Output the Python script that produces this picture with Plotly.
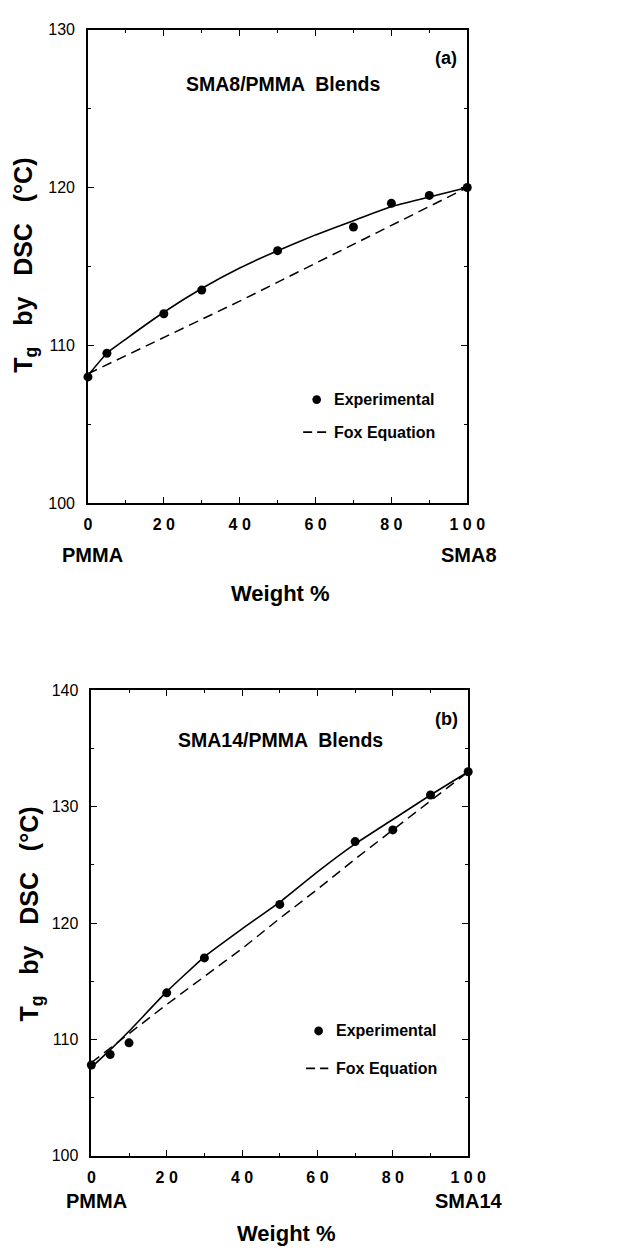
import plotly.graph_objects as go

# ---- data: SMA8/PMMA blends (panel a) ----
a_exp_w = [0, 5, 20, 30, 50, 70, 80, 90, 100]
a_exp_tg = [108.0, 109.5, 112.0, 113.5, 116.0, 117.5, 119.0, 119.5, 120.0]
a_fit_w = [0, 5, 10, 20, 30, 40, 50, 60, 70, 80, 90, 100]
a_fit_tg = [108.1, 109.5, 110.4, 112.1, 113.6, 114.9, 116.0, 117.0, 117.9, 118.8, 119.4, 120.0]
a_fox_w = [0, 20, 40, 60, 80, 100]
a_fox_tg = [108.2, 110.5, 112.8, 115.2, 117.6, 120.0]

# ---- data: SMA14/PMMA blends (panel b) ----
b_exp_w = [0, 5, 10, 20, 30, 50, 70, 80, 90, 100]
b_exp_tg = [107.8, 108.7, 109.7, 114.0, 117.0, 121.6, 127.0, 128.0, 131.0, 133.0]
b_fit_w = [0, 5, 10, 20, 30, 40, 50, 60, 70, 80, 90, 100]
b_fit_tg = [107.6, 109.1, 110.7, 114.1, 117.1, 119.5, 121.8, 124.4, 126.8, 128.9, 131.0, 133.0]
b_fox_w = [0, 10, 20, 30, 40, 50, 60, 70, 80, 90, 100]
b_fox_tg = [108.0, 110.5, 113.0, 115.4, 117.8, 120.4, 122.9, 125.5, 128.0, 130.5, 133.0]

x_tickvals = [0, 20, 40, 60, 80, 100]
x_ticktext = ["0", "2 0", "4 0", "6 0", "8 0", "1 0 0"]
a_y_ticks = [100, 110, 120, 130]
b_y_ticks = [100, 110, 120, 130, 140]

FONT = "Liberation Sans, Arial, sans-serif"
INK = "black"
DASH = "10px,6px"

fig = go.Figure()


def add_panel(xa, ya, exp_w, exp_tg, fit_w, fit_tg, fox_w, fox_tg):
    fig.add_trace(go.Scatter(x=fit_w, y=fit_tg, mode="lines", xaxis=xa, yaxis=ya,
                             line=dict(color=INK, width=1.6, shape="spline", smoothing=0.4),
                             showlegend=False))
    fig.add_trace(go.Scatter(x=fox_w, y=fox_tg, mode="lines", xaxis=xa, yaxis=ya,
                             line=dict(color=INK, width=1.5, dash=DASH), showlegend=False))
    fig.add_trace(go.Scatter(x=exp_w, y=exp_tg, mode="markers", xaxis=xa, yaxis=ya,
                             marker=dict(color=INK, size=9), cliponaxis=False, showlegend=False))


add_panel("x", "y", a_exp_w, a_exp_tg, a_fit_w, a_fit_tg, a_fox_w, a_fox_tg)
add_panel("x2", "y2", b_exp_w, b_exp_tg, b_fit_w, b_fit_tg, b_fox_w, b_fox_tg)

W, H = 630, 1254


def px(x):
    return x / W


def py(y):
    return 1 - y / H


def xaxis_style(domain, anchor):
    return dict(domain=domain, anchor=anchor, range=[0, 100], showgrid=False, zeroline=False,
                showline=True, linecolor=INK, linewidth=1.6, mirror="allticks",
                ticks="inside", ticklen=6, tickwidth=1.3, tickcolor=INK,
                tickvals=x_tickvals, ticktext=x_ticktext, ticklabelstandoff=6,
                tickfont=dict(family=FONT, size=16, color=INK, weight="bold"),
                minor=dict(ticks="inside", ticklen=3, tickwidth=1.2, tickcolor=INK, dtick=10))


def yaxis_style(domain, anchor, rng, ticks):
    return dict(domain=domain, anchor=anchor, range=rng, showgrid=False, zeroline=False,
                showline=True, linecolor=INK, linewidth=1.6, mirror="allticks",
                ticks="inside", ticklen=6, tickwidth=1.3, tickcolor=INK,
                tickvals=ticks, ticklabelstandoff=8,
                tickfont=dict(family=FONT, size=16, color=INK),
                minor=dict(ticks="inside", ticklen=3, tickwidth=1.2, tickcolor=INK, dtick=5))


fig.update_layout(
    width=W, height=H, margin=dict(l=0, r=0, t=0, b=0),
    paper_bgcolor="white", plot_bgcolor="white", showlegend=False,
    xaxis=xaxis_style([px(87), px(480)], "y"),
    yaxis=yaxis_style([py(502), py(22)], "x", [100, 130], a_y_ticks),
    xaxis2=xaxis_style([px(90.5), px(481)], "y2"),
    yaxis2=yaxis_style([py(1163.5), py(691.7)], "x2", [100, 140], b_y_ticks),
)


def label(text, x, y, size, angle=0):
    fig.add_annotation(text=text, x=px(x), y=py(y), xref="paper", yref="paper",
                       xanchor="center", yanchor="middle", showarrow=False, textangle=angle,
                       font=dict(family=FONT, size=size, color=INK, weight="bold"))


def legend_block(mx, my, dash_x0, dash_x1, fy, tx):
    # filled-circle key and dashed-line key drawn in paper space
    fig.add_shape(type="circle", xref="paper", yref="paper",
                  x0=px(mx - 4.5), x1=px(mx + 4.5), y0=py(my + 4.5), y1=py(my - 4.5),
                  fillcolor=INK, line=dict(color=INK, width=0))
    fig.add_shape(type="line", xref="paper", yref="paper",
                  x0=px(dash_x0), x1=px(dash_x1), y0=py(fy), y1=py(fy),
                  line=dict(color=INK, width=1.8, dash="9px,5px"))
    label("Experimental", tx, my, 16)
    label("Fox Equation", tx, fy, 16)


Y_TITLE = "T<sub>g</sub>   by   DSC   (°C)"

# panel (a) texts
label("SMA8/PMMA  Blends", 289, 77, 19.5)
label("(a)", 458, 51, 18)
legend_block(324, 397, 310, 334, 430, 394)
label("PMMA", 92, 555, 20)
label("SMA8", 482, 555, 20)
label("Weight %", 287, 594, 22)
label(Y_TITLE, 22, 261, 25, angle=-90)

# panel (b) texts
label("SMA14/PMMA  Blends", 286, 742, 19.5)
label("(b)", 458, 721, 18)
legend_block(326, 1037, 313, 336, 1075, 396)
label("PMMA", 96, 1209, 20)
label("SMA14", 482, 1209, 20)
label("Weight %", 293, 1242, 22)
label(Y_TITLE, 27, 919, 25, angle=-90)

fig.write_html("out.html")
